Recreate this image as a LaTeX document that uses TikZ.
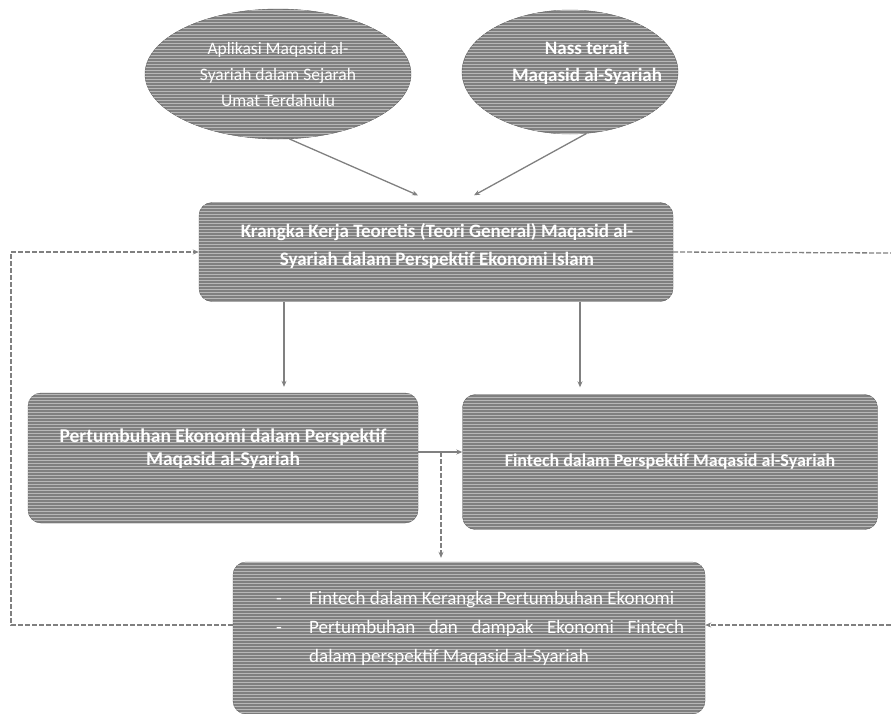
\documentclass[tikz,border=0pt]{standalone}
\usepackage{fontspec}
\setmainfont{Carlito}
\usetikzlibrary{arrows.meta,shapes.geometric,patterns}
\begin{document}
\begin{tikzpicture}[x=1pt,y=-1pt,
  kotak/.style={draw=black!65, fill=black!50, rounded corners=13pt, text=white, align=center, inner sep=0pt,
    postaction={pattern=horizontal lines, pattern color=black!28}},
  elips/.style={ellipse, draw=black!65, fill=black!50, text=white, align=center, inner sep=0pt,
    postaction={pattern=horizontal lines, pattern color=black!28}},
  teks/.style={text=white, align=center, inner sep=0pt},
  panah/.style={-{Stealth[length=6pt,width=5pt]}, draw=black!50, line width=1.3pt},
  putus/.style={draw=black!50, line width=1.3pt, dash pattern=on 5pt off 2pt}]
\useasboundingbox (0,0) rectangle (891,713);
\node[elips, minimum width=266pt, minimum height=130pt, font=\fontsize{17.5}{26}\selectfont] (e1) at (278,74) {Aplikasi Maqasid al-\\Syariah dalam Sejarah\\Umat Terdahulu};
\node[elips, minimum width=216pt, minimum height=124pt] (e2) at (570,72) {};
\node[teks, font=\bfseries\fontsize{19}{27}\selectfont] (t2) at (587,63) {Nass terait\\Maqasid al-Syariah};
\node[kotak, minimum width=474pt, minimum height=99pt] (kA) at (436,252) {};
\node[teks, font=\bfseries\fontsize{19}{28}\selectfont] (tA) at (437,246) {Krangka Kerja Teoretis (Teori General) Maqasid al-\\Syariah dalam Perspektif Ekonomi Islam};
\node[kotak, minimum width=390pt, minimum height=130pt] (kB) at (223,458) {};
\node[teks, font=\bfseries\fontsize{19.5}{23}\selectfont] (tB) at (223,449) {Pertumbuhan Ekonomi dalam Perspektif\\Maqasid al-Syariah};
\node[kotak, minimum width=415pt, minimum height=135pt, font=\bfseries\fontsize{18}{23}\selectfont] (kC) at (670,462) {Fintech dalam Perspektif Maqasid al-Syariah};
\node[kotak, minimum width=472pt, minimum height=152pt] (kD) at (469,638) {};
\node[teks, anchor=west, align=left, font=\fontsize{19}{29}\selectfont] (tD) at (276,628) {%
  \begin{tabular}{@{}p{33pt}@{}l@{}}
  - & Fintech dalam Kerangka Pertumbuhan Ekonomi\\
  - & \makebox[375pt][s]{Pertumbuhan dan dampak Ekonomi Fintech}\\
    & dalam perspektif Maqasid al-Syariah
  \end{tabular}};
\draw[panah] (e1.-80) -- ([xshift=-18pt,yshift=7pt]kA.north);
\draw[panah] (e2.-75) -- ([xshift=38pt,yshift=7pt]kA.north);
\draw[panah, shorten >=6pt] ([xshift=-152pt]kA.south) -- ([xshift=-152pt]kA.south |- kB.north);
\draw[panah, shorten >=7pt] ([xshift=144pt]kA.south) -- ([xshift=144pt]kA.south |- kC.north);
\draw[panah] ([yshift=6pt]kB.east) -- ([yshift=6pt]kB.east -| kC.west);
\coordinate (simpang) at (441,452);
\draw[putus, -{Stealth[length=6pt,width=5pt]}, shorten >=4pt] (simpang) -- (simpang |- kD.north);
\coordinate (kiri) at (11,252);
\coordinate (kananA) at (891,253);
\coordinate (kananD) at (891,625);
\draw[putus, -{Stealth[length=6pt,width=5pt]}] ([yshift=13pt]kD.west) -| (kiri) -- (kA.west);
\draw[putus] (kA.east) -- (kananA);
\draw[putus, -{Stealth[length=6pt,width=5pt]}] (kananD) -- ([yshift=13pt]kD.east);
\end{tikzpicture}
\end{document}
